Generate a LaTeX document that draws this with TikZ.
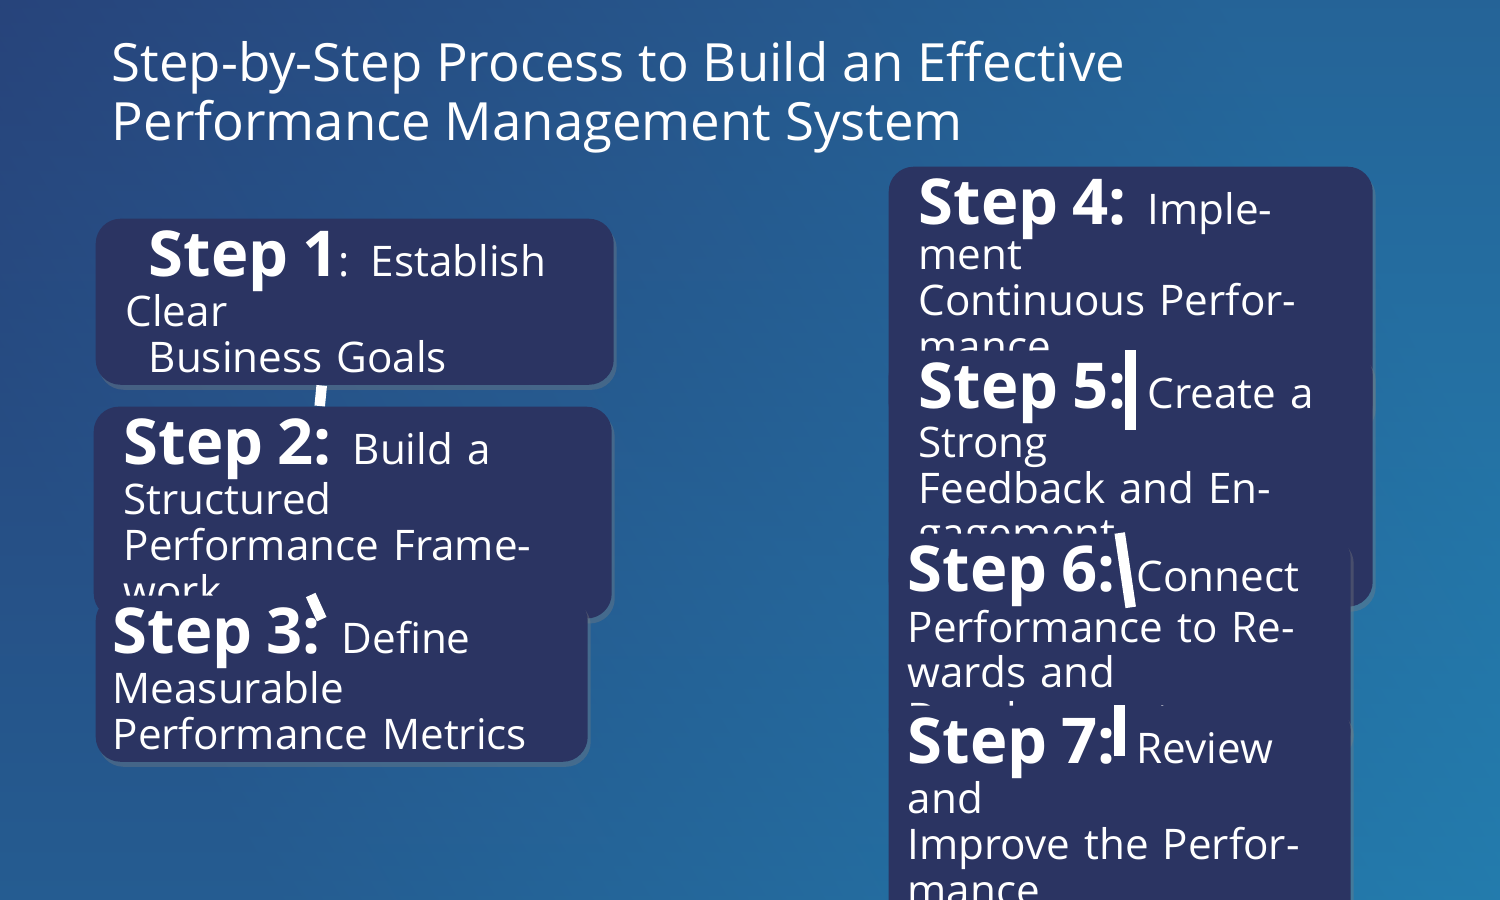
\documentclass[tikz,border=0pt]{standalone}
\usepackage{fontspec}
\setmainfont{Open Sans}
\usetikzlibrary{positioning,shadows}
\definecolor{bgtop}{RGB}{40,62,118}
\definecolor{bgbot}{RGB}{34,138,186}
\definecolor{stepnavy}{RGB}{43,52,98}
\tikzstyle{link} = [line width=3pt,color=white]
\newcommand{\stepfont}{\fontsize{18}{18}\selectfont\bfseries}

\begin{document}
\begin{tikzpicture}[
    stepbox/.style={rectangle, rounded corners=0.25cm, fill=stepnavy, minimum height=1.48cm, inner xsep=0.3cm, align=left, anchor=north west, font=\fontsize{12}{13}\selectfont, text=white, drop shadow={opacity=0.35, shadow xshift=0.03cm, shadow yshift=-0.05cm}}
]
% Background
\shade[left color=bgtop, right color=bgbot, shading angle=120] (0,0) rectangle (15,9);
\shade[top color=bgtop, bottom color=bgbot!80!bgtop, opacity=0.5] (0,0) rectangle (15,9);
\useasboundingbox (0,0) rectangle (15,9);

% Title
\node (title) [anchor=north west, align=left, text=white, font=\fontsize{15}{17}\selectfont, inner sep=0pt] at (1.11,8.6) {Step-by-Step Process to Build an Effective\\Performance Management System};

% Left column
\node (s1) [stepbox, text width=4.58cm, minimum height=1.59cm] at (0.95,6.82) {\hspace*{0.23cm}{\stepfont Step 1}: Establish Clear\\\hspace*{0.23cm}Business Goals};
\node (s2) [stepbox, text width=4.58cm, minimum height=1.59cm] at (0.93,4.94) {{\stepfont Step 2:} Build a Structured\\Performance Framework\\[2pt]};
\node (s3) [stepbox, text width=4.58cm, minimum height=1.59cm, inner xsep=0.17cm] at (0.95,3.05) {{\stepfont Step 3:} Define Measurable\\Performance Metrics\\[2pt]};

% Right column
\node (s4) [stepbox, text width=4.24cm] at (8.88,7.34) {{\stepfont Step 4:} Implement\\Continuous Performance\\\hspace*{0.07cm}Monitoring};
\node (s5) [stepbox, text width=4.24cm] at (8.88,5.5) {{\stepfont Step 5:} Create a Strong\\Feedback and Engagement\\Process};
\node (s6) [stepbox, text width=4.24cm, inner xsep=0.19cm] at (8.88,3.67) {{\stepfont Step 6:} Connect\\Performance to Rewards and\\Development};
\node (s7) [stepbox, text width=4.24cm, inner xsep=0.19cm] at (8.88,1.95) {{\stepfont Step 7:} Review and\\Improve the Performance\\Management System};

% Connections
\draw[link] ([xshift=-0.33cm]s1.south) -- ([xshift=-0.33cm]s2.north);
\draw[link] ([xshift=-0.31cm]s2.south) -- ([xshift=-0.31cm]s3.north);
\draw[link] (s4.south) -- (s5.north);
\draw[link] (s5.south) -- (s6.north);
\draw[link] (s6.south) -- (s7.north);
\end{tikzpicture}
\end{document}
